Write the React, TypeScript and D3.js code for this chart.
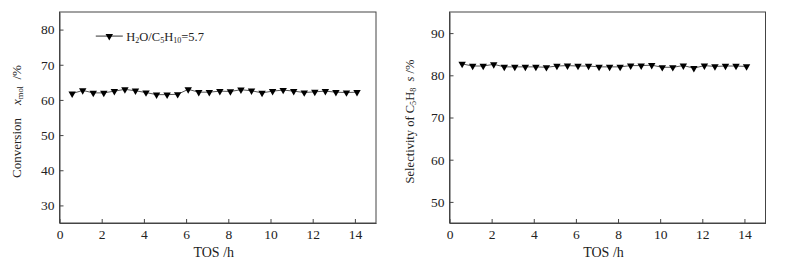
import React, { useEffect, useRef } from 'react';
import * as d3 from 'd3';

const tos = [0.6, 1.1, 1.6, 2.1, 2.6, 3.1, 3.6, 4.1, 4.6, 5.1, 5.6, 6.1, 6.6, 7.1, 7.6, 8.1, 8.6, 9.1, 9.6, 10.1, 10.6, 11.1, 11.6, 12.1, 12.6, 13.1, 13.6, 14.1];
const conversion = [61.8, 62.7, 62.0, 62.0, 62.5, 63.0, 62.6, 62.1, 61.5, 61.5, 61.6, 63.0, 62.2, 62.2, 62.5, 62.4, 62.9, 62.6, 62.0, 62.5, 62.8, 62.5, 62.1, 62.3, 62.5, 62.2, 62.1, 62.2];
const selectivity = [82.7, 82.2, 82.2, 82.6, 82.0, 82.0, 82.0, 82.0, 81.9, 82.2, 82.3, 82.2, 82.2, 82.0, 82.0, 82.0, 82.3, 82.3, 82.4, 81.9, 81.9, 82.3, 81.7, 82.3, 82.1, 82.2, 82.2, 82.1];
const xTicks = [0, 2, 4, 6, 8, 10, 12, 14];
const convTicks = [30, 40, 50, 60, 70, 80];
const selTicks = [50, 60, 70, 80, 90];

const FONT = '"Liberation Serif", "Times New Roman", serif';
const AXIS = '#444';
const TXT = '#222';

type Part = { t: string; sub?: boolean; it?: boolean };

function richText(sel: d3.Selection<SVGTextElement, unknown, null, undefined>, parts: Part[], subSize: number) {
    parts.forEach((p) => {
        const ts = sel.append('tspan').text(p.t);
        if (p.sub) ts.attr('font-size', subSize).attr('baseline-shift', '-30%');
        if (p.it) ts.attr('font-style', 'italic');
    });
}

function drawPanel(
    svg: d3.Selection<SVGSVGElement, unknown, null, undefined>,
    box: { left: number; right: number; top: number; bottom: number },
    yDomain: [number, number],
    yTicks: number[],
    values: number[],
    yLabel: Part[],
    yLabelX: number,
    yLabelSize: number,
    legend: boolean
) {
    const x = d3.scaleLinear().domain([0, 15]).range([box.left, box.right]);
    const y = d3.scaleLinear().domain(yDomain).range([box.bottom, box.top]);
    const g = svg.append('g');

    // frame
    g.append('rect')
        .attr('x', box.left)
        .attr('y', box.top)
        .attr('width', box.right - box.left)
        .attr('height', box.bottom - box.top)
        .attr('fill', 'none')
        .attr('stroke', AXIS)
        .attr('stroke-width', 1);

    // ticks point inward
    const xAxis = g.append('g')
        .attr('transform', `translate(0,${box.bottom})`)
        .call(d3.axisBottom(x).tickValues(xTicks).tickSize(-4).tickSizeOuter(0).tickPadding(6));
    const yAxis = g.append('g')
        .attr('transform', `translate(${box.left},0)`)
        .call(d3.axisLeft(y).tickValues(yTicks).tickSize(-4).tickSizeOuter(0).tickPadding(5));
    [xAxis, yAxis].forEach((a) => {
        a.select('.domain').attr('stroke', AXIS);
        a.selectAll('line').attr('stroke', AXIS);
        a.selectAll('text').attr('font-family', FONT).attr('font-size', 13.5).attr('fill', TXT);
    });

    // series line
    const line = d3.line<number>()
        .x((_, i) => x(tos[i]))
        .y((d) => y(d));
    g.append('path')
        .datum(values)
        .attr('fill', 'none')
        .attr('stroke', '#555')
        .attr('stroke-width', 1)
        .attr('d', line);

    const tri = d3.symbol().type(d3.symbolTriangle).size(24);
    g.selectAll('.mk')
        .data(values)
        .enter()
        .append('path')
        .attr('d', tri)
        .attr('transform', (d, i) => `translate(${x(tos[i])},${y(d)}) rotate(180)`)
        .attr('fill', '#000');

    // axis titles
    g.append('text')
        .attr('x', (box.left + box.right) / 2 - 4)
        .attr('y', 257)
        .attr('text-anchor', 'middle')
        .attr('font-family', FONT)
        .attr('font-size', 14)
        .attr('fill', TXT)
        .text('TOS /h');

    const yl = g.append('text')
        .attr('transform', `translate(${yLabelX},${(box.top + box.bottom) / 2 + 4}) rotate(-90)`)
        .attr('text-anchor', 'middle')
        .attr('font-family', FONT)
        .attr('font-size', yLabelSize)
        .attr('fill', TXT)
        .attr('xml:space', 'preserve');
    richText(yl, yLabel, yLabelSize * 0.65);

    if (legend) {
        const ly = y(80) + 6.5;
        const lx0 = x(1.72);
        const lx1 = x(3.0);
        g.append('line')
            .attr('x1', lx0).attr('x2', lx1)
            .attr('y1', ly).attr('y2', ly)
            .attr('stroke', '#333').attr('stroke-width', 1);
        g.append('path')
            .attr('d', tri)
            .attr('transform', `translate(${(lx0 + lx1) / 2},${ly}) rotate(180)`)
            .attr('fill', '#000');
        const lt = g.append('text')
            .attr('x', lx1 + 3.5)
            .attr('y', ly + 4.5)
            .attr('font-family', FONT)
            .attr('font-size', 12.5)
            .attr('fill', TXT);
        richText(lt, [
            { t: 'H' }, { t: '2', sub: true }, { t: 'O/C' }, { t: '5', sub: true },
            { t: 'H' }, { t: '10', sub: true }, { t: '=5.7' }
        ], 8);
    }
}

export default function App() {
    const svgRef = useRef<SVGSVGElement>(null);

    useEffect(() => {
        const svg = d3.select(svgRef.current as SVGSVGElement);
        svg.selectAll('*').remove();

        drawPanel(
            svg,
            { left: 59.5, right: 376, top: 12, bottom: 223 },
            [25, 85],
            convTicks,
            conversion,
            [{ t: 'Conversion    ' }, { t: 'x', it: true }, { t: 'mol', sub: true }, { t: '  /%' }],
            21,
            13,
            true
        );
        drawPanel(
            svg,
            { left: 449.5, right: 765.5, top: 12, bottom: 223 },
            [45, 95],
            selTicks,
            selectivity,
            [{ t: 'Selectivity of C' }, { t: '5', sub: true }, { t: 'H' }, { t: '8', sub: true }, { t: '  ' }, { t: 's', it: true }, { t: ' /%' }],
            414,
            12.5,
            false
        );
    }, []);

    return (
        <div style={{ position: 'absolute', left: 0, top: 0 }}>
            <svg ref={svgRef} width={792} height={266} style={{ display: 'block', background: '#fff' }} />
        </div>
    );
}
